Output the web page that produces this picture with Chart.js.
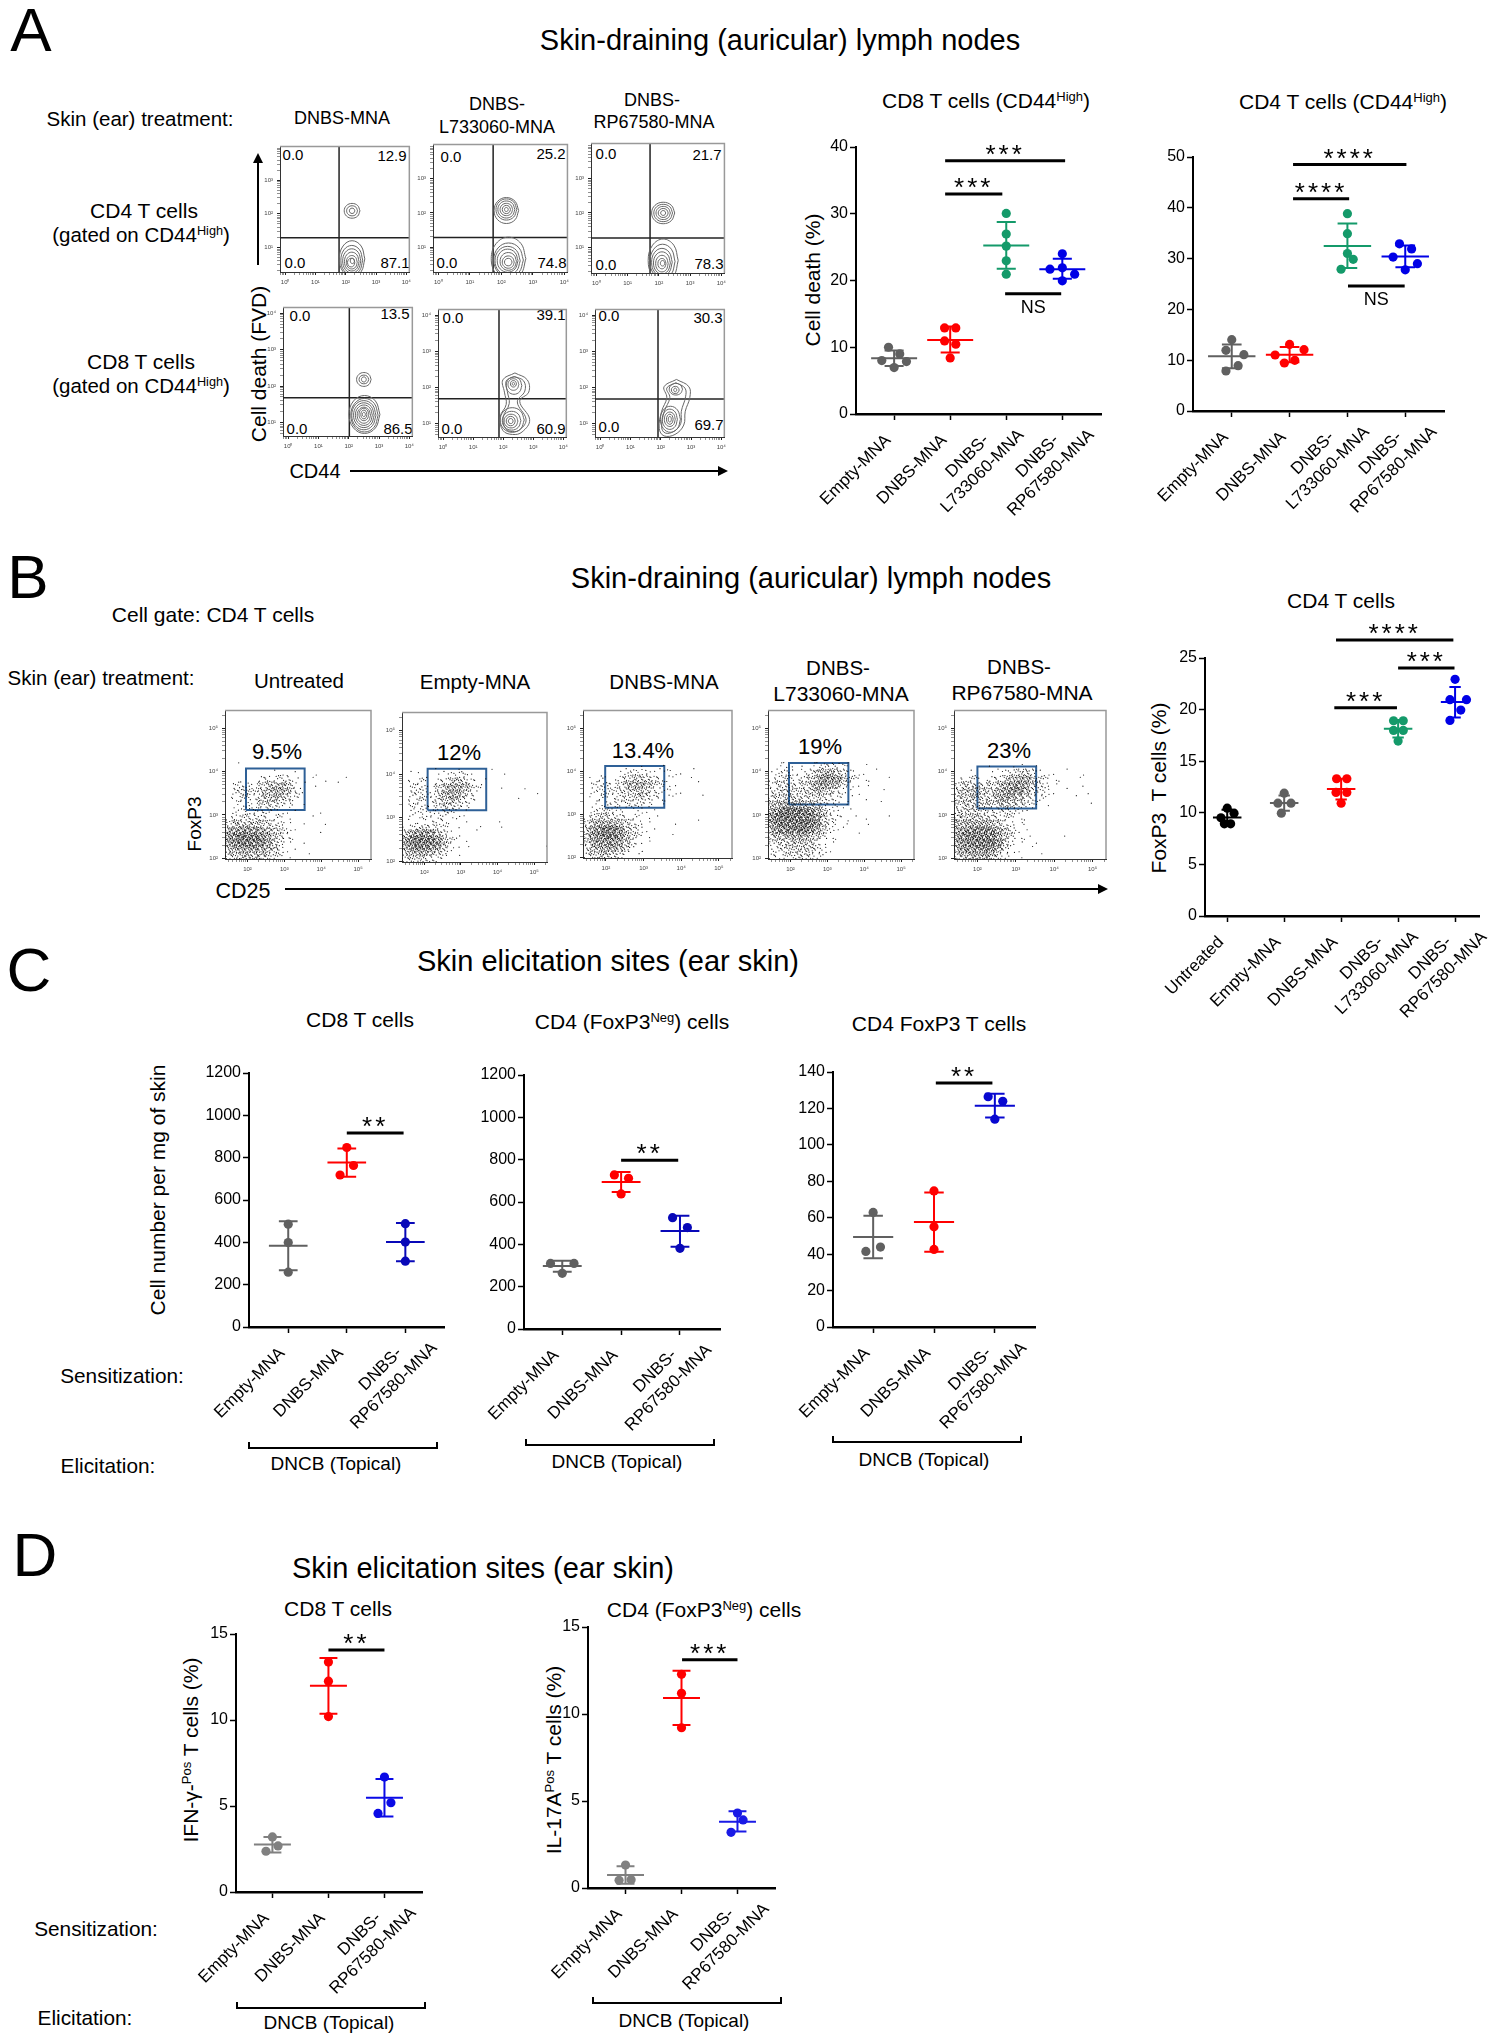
<!DOCTYPE html>
<html>
<head>
<meta charset="utf-8">
<title>Skin-draining lymph nodes and elicitation sites</title>
<script src="https://cdn.jsdelivr.net/npm/chart.js@4"></script>
<style>
  html, body { margin: 0; background: #fff; }
  #page { position: relative; width: 1494px; height: 2040px; overflow: hidden; background: #fff;
          font-family: "Liberation Sans", Arial, sans-serif; color: #000; }
  #page canvas { position: absolute; }
  .t { position: absolute; white-space: nowrap; transform: translate(-50%, -50%); line-height: 1; }
  .t sup { font-size: 62%; line-height: 0; vertical-align: baseline; position: relative; top: -0.55em; }
  .v { transform: translate(-50%, -50%) rotate(-90deg); }
  .k { position: absolute; background: #000; }
</style>
</head>
<body>
<div id="page"></div>
<script>
// ---- group names ----
var groupsA = ['Empty-MNA', 'DNBS-MNA', ['DNBS-', 'L733060-MNA'], ['DNBS-', 'RP67580-MNA']];
var groupsB = ['Untreated', 'Empty-MNA', 'DNBS-MNA', ['DNBS-', 'L733060-MNA'], ['DNBS-', 'RP67580-MNA']];
var groupsC = ['Empty-MNA', 'DNBS-MNA', ['DNBS-', 'RP67580-MNA']];

// ---- panel A, CD8 T cells ----
var a1X = [[-.1, .1, -.22, .22, 0], [-.1, .1, -.1, .1, 0], [0, 0, 0, 0, 0], [0, -.22, 0, .22, 0]];
var a1Y = [[10, 9, 8, 7.85, 6.95], [12.9, 12.9, 10.95, 10.45, 8.4], [30.05, 26.95, 25.15, 22.95, 20.95], [24, 21.7, 21.9, 20.95, 19.95]];
var a1Mean = [8.35, 11.1, 25.25, 21.7];
var a1Upper = [9.5, 13.1, 28.75, 23.25];
var a1Lower = [7.2, 9.2, 21.75, 20.25];
var a1Sig = [[.91, 3.05, 37.95, '***'], [.91, 1.93, 32.95, '***'], [1.98, 2.98, 18, 'NS']];

// ---- panel A, CD4 T cells ----
var a2X = [[0, -.1, .21, .11, -.1], [0, .25, -.25, .09, -.09], [0, 0, 0, .1, -.11], [-.1, .11, -.21, .21, 0]];
var a2Y = [[14.04, 11.94, 11.09, 8.92, 7.87], [13.1, 12.07, 11.02, 9.97, 9.45], [38.85, 34.9, 31, 29.86, 27.9], [32.9, 31.9, 30.3, 29, 27.8]];
var a2Mean = [10.76, 11.09, 32.5, 30.4];
var a2Upper = [13.1, 12.6, 36.9, 32.6];
var a2Lower = [8.4, 9.6, 28.15, 28.3];
var a2Sig = [[1.06, 3.02, 48.5, '****'], [1.06, 2.03, 41.8, '****'], [2.01, 2.99, 24.6, 'NS']];

// ---- panel B, FoxP3 T cells ----
var b1X = [[0, .12, -.11, -.05, .06], [0, -.11, .12, -.05], [-.08, .1, -.09, .1, 0], [-.08, .09, -.08, .09, 0], [0, -.09, .2, .1, -.09]];
var b1Y = [[10.45, 9.96, 9.51, 8.93, 8.93], [11.9, 10.93, 10.93, 9.96], [13.3, 13.3, 11.97, 11.97, 10.93], [18.92, 18.92, 17.98, 17.98, 16.95], [22.93, 20.96, 20.96, 19.95, 18.95]];
var b1Mean = [9.54, 10.96, 12.3, 18.14, 20.73];
var b1Upper = [10.3, 11.67, 13.3, 19, 22.2];
var b1Lower = [8.8, 10.2, 11.3, 17.3, 19.24];
var b1Sig = [[1.91, 3.97, 26.75, '****'], [3, 3.99, 24.03, '***'], [1.88, 2.98, 20.18, '***']];

// ---- panel C ----
var c1X = [[0, 0, 0], [0, .115, -.115], [0, 0, 0]];
var c1Y = [[486, 399, 259], [848, 763, 718], [488, 401, 311]];
var c1Mean = [384, 777, 401];
var c1Upper = [500, 843, 491];
var c1Lower = [268, 710, 311];
var c1Sig = [[1, 1.97, 916, '**']];

var c2X = [[-.2, .2, 0], [-.115, .126, 0], [-.126, .126, 0]];
var c2Y = [[310, 310, 263], [728, 712, 638], [526, 479, 381]];
var c2Mean = [298, 694, 463];
var c2Upper = [323, 742, 535];
var c2Lower = [271, 647, 389];
var c2Sig = [[1, 1.97, 797, '**']];

var c3X = [[0, .12, -.12], [0, 0, 0], [-.11, .13, 0]];
var c3Y = [[62.9, 43.9, 41.5], [74.7, 55, 42.6], [126.4, 123.9, 114.1]];
var c3Mean = [49.4, 57.6, 121.5];
var c3Upper = [61.1, 73.8, 128];
var c3Lower = [37.8, 41.3, 115];
var c3Sig = [[1.03, 1.96, 134, '**']];

// ---- panel D ----
var d1X = [[0, .1, -.115], [0, 0, 0], [0, .115, -.115]];
var d1Y = [[3.2, 2.68, 2.37], [13.37, 12.26, 10.2], [6.68, 5.19, 4.57]];
var d1Mean = [2.76, 11.99, 5.48];
var d1Upper = [3.2, 13.6, 6.57];
var d1Lower = [2.3, 10.37, 4.39];
var d1Sig = [[1, 2, 14.07, '**']];

var d2X = [[0, -.115, .1], [0, 0, 0], [0, .1, -.115]];
var d2Y = [[1.32, .44, .48], [12.28, 11.19, 9.21], [4.31, 3.91, 3.2]];
var d2Mean = [.75, 10.92, 3.81];
var d2Upper = [1.25, 12.49, 4.41];
var d2Lower = [.25, 9.37, 3.24];
var d2Sig = [[1.01, 2, 13.12, '***']];

// ---- contour plots of panel A: rings are [centre x, centre y, radius x, radius y] in decades ----
var ringsA1 = [[2.21, 2.09, .26, .22], [2.21, 2.09, .18, .15], [2.21, 2.09, .09, .08],
  [2.21, .66, .42, .54], [2.2, .62, .36, .44], [2.2, .6, .3, .36], [2.2, .58, .24, .28], [2.2, .56, .18, .2], [2.18, .55, .12, .13], [2.22, .6, .07, .08]];
var ringsA2 = [[2.16, 2.07, .39, .38], [2.16, 2.1, .33, .31], [2.16, 2.1, .27, .25], [2.16, 2.1, .2, .18], [2.16, 2.1, .13, .12], [2.16, 2.1, .06, .06],
  [2.23, .66, .55, .63], [2.23, .62, .47, .5], [2.2, .6, .4, .42], [2.2, .6, .33, .34], [2.22, .58, .26, .26], [2.22, .56, .19, .18], [2.22, .56, .12, .11]];
var ringsA3 = [[2.14, 2, .37, .31], [2.14, 2, .3, .25], [2.14, 2, .23, .19], [2.14, 2, .16, .13], [2.14, 2, .08, .07],
  [2.14, .63, .48, .62], [2.12, .6, .4, .5], [2.1, .58, .33, .4], [2.1, .56, .27, .32], [2.1, .54, .2, .24], [2.1, .54, .13, .15], [2.12, .55, .07, .08]];
var ringsA4 = [[2.5, 2.18, .24, .19], [2.5, 2.18, .16, .12], [2.5, 2.18, .08, .07],
  [2.52, 1.22, .51, .52], [2.52, 1.2, .45, .46], [2.5, 1.2, .4, .4], [2.5, 1.2, .34, .34], [2.5, 1.2, .28, .28], [2.5, 1.2, .22, .22], [2.5, 1.22, .16, .17], [2.5, 1.22, .1, .12], [2.5, 1.22, .05, .06]];
var ringsA5 = [[2.36, 2.05, .26, .24], [2.34, 2.08, .18, .16], [2.34, 2.1, .1, .09], [2.34, 2.1, .04, .04],
  [2.3, 1.1, .4, .34], [2.28, 1.08, .31, .26], [2.26, 1.07, .23, .19], [2.25, 1.07, .15, .13], [2.25, 1.07, .08, .07]];
var ringsA6 = [[2.5, 1.95, .22, .16], [2.48, 1.93, .13, .1], [2.48, 1.93, .05, .05],
  [2.32, 1.12, .33, .36], [2.3, 1.12, .25, .28], [2.3, 1.12, .18, .2], [2.3, 1.12, .11, .14], [2.3, 1.12, .05, .08]];
// two-lobed outlines of the last two CD8 plots
var lobesA5 = [
  [[2.39, 2.4], [2.8, 2.21], [2.85, 1.87], [2.55, 1.62], [2.88, 1.11], [2.63, .77], [2.31, .7], [1.99, .81], [1.9, 1.19], [2.1, 1.53], [2.04, 1.87], [1.99, 2.21], [2.39, 2.4]],
  [[2.37, 2.3], [2.68, 2.18], [2.72, 1.9], [2.47, 1.6], [2.76, 1.12], [2.57, .84], [2.3, .78], [2.07, .87], [2, 1.18], [2.2, 1.55], [2.14, 1.88], [2.1, 2.18], [2.37, 2.3]]];
var lobesA6 = [
  [[2.52, 2.22], [2.93, 2.02], [2.96, 1.72], [2.81, 1.34], [2.76, .96], [2.47, .7], [2.11, .66], [1.95, .87], [2.03, 1.34], [2.2, 1.72], [2.11, 2.02], [2.52, 2.22]],
  [[2.5, 2.13], [2.8, 1.98], [2.82, 1.74], [2.68, 1.34], [2.66, 1], [2.42, .78], [2.15, .74], [2.03, .9], [2.12, 1.34], [2.3, 1.72], [2.2, 1.98], [2.5, 2.13]]];
var quadA = [[1.78, 1.29], [1.74, 1.28], [1.72, 1.28], [2.02, 1.68], [1.86, 1.69], [1.91, 1.68]];

// ---- dot plots of panel B: density per cell (hex), one string per row, rows 8 to 22 from the top ----
var dotsB1 = [
  '00100000000000000000000', '00000001101001000000000', '00000232331101010010000', '02322457762011000100000', '03443678873200000000000',
  '02332568652100000000000', '01222454321100000000000', '02223332111000100000000', '13343322210001000000000', '36665543310100010000000',
  '8abbb975421000100000000', 'bdfffda6421000000000000', '9cefed96310100000000000', '6899a875211000000000000', '4667765321001000000000'];
var dotsB2 = [
  '00000100100001000000000', '01110112231000010000000', '02220235652110000000000', '02331469974210010010000', '03332489853100000000100',
  '02322467532100000100000', '03232354321000000000000', '02222232110000000000000', '01122221110000100000000', '12343321100100010000000',
  '59bba641100100000000000', 'aefffb63110000000000000', '9cfedb52101000000000010', '6899754110000000000000', '3544321000000000000000'];
var dotsB3 = [
  '00000000100100000000000', '00000123221121101000000', '01211245543211001000000', '02332378874321000100000', '02333456753221100000000',
  '01222344542211000100000', '01223233321110000000000', '02342211211000000000000', '14553322110100000000000', '37988643210001000100000',
  '5adfec64211000000000000', '6bdffd74210001000000000', '49bcca6311000000000000', '3788975110000000000000', '2566431010000000000000'];
var dotsB4 = [
  '01210112332210100000000', '12321236785421101000000', '13432358bba632110010000', '24443469a97321010000000', '34544568653211000100000',
  '45555444432110100000000', '6898766532211000010000', '9cfffed852111000000000', 'bfffffeb6321011000100', 'aefffffb5311100100000',
  '8cdeefd84211010000000', '577988653110000000000', '3456665311000000000', '2344555321000000000', '2233444210000000000'];
var dotsB5 = [
  '00000100110100000000000', '00100112345311101010000', '02321235799632110010000', '35554469bca6421000100', '5777668bdc84321010010',
  '5676559a974321000100', '4565546764321100000100', '4554433432110000000', '5666543321100000000', '7899975321100000',
  '9cdeed96311000000', 'adffffa6311100001', 'acefffb6210100000', '8bbcdb731101000', '5788a7420100100'];
// gate [x from, x to, y from, y to] in decades
var gatesB = [[1.96, 3.55, 3.11, 4.07], [2.09, 3.69, 3.17, 4.12], [1.98, 3.55, 3.15, 4.12], [1.96, 3.57, 3.24, 4.2], [2, 3.53, 3.15, 4.12]];
var stipple = [[.13, .62], [.71, .19], [.42, .88], [.93, .55], [.28, .33], [.58, .47], [.07, .09], [.82, .81], [.37, .06], [.66, .72], [.19, .94], [.49, .24], [.88, .35], [.02, .44], [.75, .98]];

// ---- text on the page: html, centre x, centre y, size ----
var pageTexts = [
  ['A', 31, 30, 62], ['B', 28, 577, 62], ['C', 29, 970, 62], ['D', 35, 1555, 62],
  ['Skin-draining (auricular) lymph nodes', 780, 40, 29], ['Skin-draining (auricular) lymph nodes', 811, 578, 29],
  ['Skin elicitation sites (ear skin)', 608, 961, 29], ['Skin elicitation sites (ear skin)', 483, 1568, 29],
  ['Skin (ear) treatment:', 140, 119, 20.5], ['DNBS-MNA', 342, 118, 18], ['DNBS-', 497, 104, 18], ['L733060-MNA', 497, 127, 18], ['DNBS-', 652, 100, 18], ['RP67580-MNA', 654, 122, 18],
  ['CD4 T cells', 144, 210, 21], ['(gated on CD44<sup>High</sup>)', 141, 235, 20.5], ['CD8 T cells', 141, 361, 21], ['(gated on CD44<sup>High</sup>)', 141, 386, 20.5],
  ['CD44', 315, 471, 20], ['CD8 T cells (CD44<sup>High</sup>)', 986, 100, 21], ['CD4 T cells (CD44<sup>High</sup>)', 1343, 101, 21],
  ['Cell gate: CD4 T cells', 213, 614, 21], ['Skin (ear) treatment:', 101, 678, 20.5],
  ['Untreated', 299, 681, 20.5], ['Empty-MNA', 475, 682, 20.5], ['DNBS-MNA', 664, 682, 20.5], ['DNBS-', 838, 668, 20.5], ['L733060-MNA', 841, 693, 21], ['DNBS-', 1019, 667, 20.5], ['RP67580-MNA', 1022, 692, 21],
  ['9.5%', 277, 752, 22], ['12%', 459, 753, 22], ['13.4%', 643, 751, 22], ['19%', 820, 747, 22], ['23%', 1009, 751, 22],
  ['CD25', 243, 892, 21.5], ['CD4 T cells', 1341, 600, 21],
  ['CD8 T cells', 360, 1019, 21], ['CD4 (FoxP3<sup>Neg</sup>) cells', 632, 1021, 21], ['CD4 FoxP3 T cells', 939, 1023, 21],
  ['Sensitization:', 122, 1376, 20.8], ['Elicitation:', 108, 1466, 20.8],
  ['DNCB (Topical)', 336, 1463, 19], ['DNCB (Topical)', 617, 1461, 19], ['DNCB (Topical)', 924, 1459, 19],
  ['CD8 T cells', 338, 1608, 21], ['CD4 (FoxP3<sup>Neg</sup>) cells', 704, 1609, 21],
  ['Sensitization:', 96, 1929, 20.8], ['Elicitation:', 85, 2018, 20.8],
  ['DNCB (Topical)', 329, 2022, 19], ['DNCB (Topical)', 684, 2020, 19]
];
var sideTexts = [
  ['Cell death (FVD)', 258, 364, 21], ['Cell death (%)', 812, 280, 21], ['FoxP3', 194, 824, 19],
  ['FoxP3&nbsp; T cells (%)', 1158, 788, 21], ['Cell number per mg of skin', 157, 1190, 21],
  ['IFN-&gamma;-<sup>Pos</sup> T cells (%)', 190, 1750, 21], ['IL-17A<sup>Pos</sup> T cells (%)', 553, 1760, 21]
];
var quadNumbers = [
  ['0.0', 293, 154], ['12.9', 392, 155], ['0.0', 295, 262], ['87.1', 395, 262],
  ['0.0', 451, 156], ['25.2', 551, 153], ['0.0', 447, 262], ['74.8', 552, 262],
  ['0.0', 606, 153], ['21.7', 707, 154], ['0.0', 606, 264], ['78.3', 709, 263],
  ['0.0', 300, 315], ['13.5', 395, 313], ['0.0', 297, 428], ['86.5', 398, 428],
  ['0.0', 453, 317], ['39.1', 551, 314], ['0.0', 452, 428], ['60.9', 551, 428],
  ['0.0', 609, 315], ['30.3', 708, 317], ['0.0', 609, 426], ['69.7', 709, 424]
];

var GRAY = '#606060', RED = '#ff0000', GREEN = '#149a6a', BLUE = '#0000e6', BLACK = '#000000';
var page = document.getElementById('page');
var decadeSup = ['\u2070', '\u00b9', '\u00b2', '\u00b3', '\u2074', '\u2075'];
var minorLog = [.3, .48, .6, .7, .78, .85, .9, .95];

function addText(html, x, y, size, cls) {
    var el = document.createElement('div');
    el.className = cls;
    el.innerHTML = html;
    el.style.left = x + 'px';
    el.style.top = y + 'px';
    el.style.fontSize = size + 'px';
    page.appendChild(el);
    return el;
}

function addBox(x, y, w, h) {
    var el = document.createElement('div');
    el.className = 'k';
    el.style.cssText = 'left:' + x + 'px;top:' + y + 'px;width:' + w + 'px;height:' + h + 'px';
    page.appendChild(el);
    return el;
}

function addCanvas(left, top, w, h) {
    var c = document.createElement('canvas');
    c.width = w;
    c.height = h;
    c.style.left = left + 'px';
    c.style.top = top + 'px';
    c.style.width = w + 'px';
    c.style.height = h + 'px';
    page.appendChild(c);
    return c;
}

function arrowRight(x0, x1, y) {
    addBox(x0, y - 1, x1 - x0 - 8, 2);
    var head = addBox(x1 - 10, y - 5, 0, 0);
    head.style.cssText += ';background:none;border-left:10px solid #000;border-top:5px solid transparent;border-bottom:5px solid transparent';
}

function arrowUp(x, y0, y1) {
    addBox(x - 1, y0 + 8, 2, y1 - y0 - 8);
    var head = addBox(x - 5, y0, 0, 0);
    head.style.cssText += ';background:none;border-bottom:10px solid #000;border-left:5px solid transparent;border-right:5px solid transparent';
}

function bracket(x0, x1, y) {
    addBox(x0, y + 5, x1 - x0, 2);
    addBox(x0, y, 2, 6);
    addBox(x1 - 2, y, 2, 6);
}

function segment(points, color, width, extra) {
    return Object.assign({
        type: 'scatter', data: points, showLine: true, pointRadius: 0, borderColor: color,
        borderWidth: width, spanGaps: false
    }, extra || {});
}

// tick labels: trailing spaces pull them along the slant to where the figure has them
function tickText(label) {
    if (Array.isArray(label)) return [label[0] + '      ', label[1]];
    return label + '      ';
}

function dotChart(o) {
    var ml = 60, mr = 60, mt = 60, mb = 150;
    var r = o.rect;
    var w = r.right - r.left, h = r.bottom - r.top;
    var canvas = addCanvas(r.left - ml, r.top - mt, w + ml + mr, h + mt + mb);
    var shift = o.labelShift || {};
    var datasets = [];
    o.xs.forEach(function (xs, g) {
        var col = o.colors[g], m = o.mean[g], up = o.upper[g], lo = o.lower[g];
        var gap = { x: NaN, y: NaN };
        datasets.push(segment([
            { x: g - r.mw, y: m }, { x: g + r.mw, y: m }, gap,
            { x: g, y: up }, { x: g, y: lo }, gap,
            { x: g - r.cw, y: up }, { x: g + r.cw, y: up }, gap,
            { x: g - r.cw, y: lo }, { x: g + r.cw, y: lo }
        ], col, 2));
        datasets.push({
            type: 'scatter',
            data: xs.map(function (dx, i) { return { x: g + dx, y: o.ys[g][i] }; }),
            pointRadius: 4.6, pointBackgroundColor: col, pointBorderWidth: 0, showLine: false
        });
    });
    o.sig.forEach(function (s) {
        datasets.push(segment([{ x: s[0], y: s[2] }, { x: s[1], y: s[2] }], '#000', 3, { clip: false }));
    });
    var sigText = {
        id: 'sigText',
        afterDatasetsDraw: function (chart) {
            var ctx = chart.ctx;
            o.sig.forEach(function (s) {
                var px = chart.scales.x.getPixelForValue((s[0] + s[1]) / 2);
                var py = chart.scales.y.getPixelForValue(s[2]);
                ctx.save();
                ctx.fillStyle = '#000';
                ctx.textAlign = 'center';
                ctx.textBaseline = 'middle';
                if (s[3] === 'NS') {
                    ctx.font = '18px "Liberation Sans"';
                    ctx.fillText(s[3], px, py + 14);
                } else {
                    ctx.font = '26px "Liberation Sans"';
                    ctx.letterSpacing = '3px';
                    ctx.fillText(s[3], px, py - 5);
                }
                ctx.restore();
            });
        }
    };
    new Chart(canvas, {
        type: 'scatter',
        data: { datasets: datasets },
        plugins: [sigText],
        options: {
            responsive: false,
            animation: false,
            layout: { padding: { top: mt, right: mr } },
            plugins: { legend: { display: false }, tooltip: { enabled: false } },
            scales: {
                x: {
                    type: 'linear', min: r.xMin, max: r.xMax,
                    afterFit: function (s) { s.height = mb; },
                    afterBuildTicks: function (s) {
                        // a shifted label sits on its own unmarked tick, next to the group's tick
                        s.ticks = o.groups.map(function (_, i) { return { value: i }; });
                        Object.keys(shift).forEach(function (k) { s.ticks.push({ value: +k + shift[k] }); });
                    },
                    border: { color: '#000', width: 2.5 },
                    grid: {
                        drawOnChartArea: false, tickLength: 6, tickWidth: 1.5,
                        tickColor: function (c) { return c.tick && Number.isInteger(c.tick.value) ? '#000' : 'rgba(0,0,0,0)'; }
                    },
                    ticks: {
                        autoSkip: false, minRotation: 45, maxRotation: 45, padding: -10, labelOffset: 14,
                        font: { family: 'Liberation Sans', size: 17, lineHeight: 1.25 }, color: '#000',
                        callback: function (v) {
                            if (!Number.isInteger(v)) return tickText(o.groups[Math.round(v)]);
                            return shift[v] ? '' : tickText(o.groups[v]);
                        }
                    }
                },
                y: {
                    min: 0, max: o.yMax,
                    afterFit: function (s) { s.width = ml; },
                    border: { color: '#000', width: 2 },
                    grid: { drawOnChartArea: false, tickLength: 6, tickColor: '#000', tickWidth: 1.5 },
                    ticks: {
                        stepSize: o.yStep, padding: 2,
                        font: { family: 'Liberation Sans', size: 16 }, color: '#000',
                        callback: function (v) { return String(v); }
                    }
                }
            }
        }
    });
}

function flowChart(r, datasets, xLabels, yLabels) {
    var ml = 24, mb = 22, mt = 3, mr = 3;
    var w = r.right - r.left, h = r.bottom - r.top;
    var canvas = addCanvas(r.left - ml, r.top - mt, w + ml + mr, h + mt + mb);
    function tickList(majors, lo, hi) {
        var out = [];
        majors.forEach(function (d) {
            out.push({ value: d });
            minorLog.forEach(function (m) { if (d + m < hi) out.push({ value: d + m }); });
            minorLog.forEach(function (m) { if (d === majors[0] && d - 1 + m > lo) out.push({ value: d - 1 + m }); });
        });
        return out;
    }
    function axis(min, max, majors, size, isX) {
        return {
            type: 'linear', min: min, max: max,
            afterBuildTicks: function (s) { s.ticks = tickList(majors, min, max); },
            afterFit: function (s) { if (isX) s.height = mb; else s.width = ml; },
            border: { color: '#333', width: 1 },
            grid: {
                drawOnChartArea: false, tickLength: 3, tickColor: '#222',
                tickWidth: function (c) { return c.tick && Number.isInteger(c.tick.value) ? 1 : .5; }
            },
            ticks: {
                autoSkip: false, minRotation: 0, maxRotation: 0, padding: 4,
                font: { family: 'Liberation Sans', size: size }, color: '#444',
                callback: function (v) { return majors.indexOf(v) >= 0 ? '10' + decadeSup[v] : ''; }
            }
        };
    }
    datasets.unshift(segment([{ x: r.xMin, y: r.yMax }, { x: r.xMax, y: r.yMax }, { x: r.xMax, y: r.yMin }], '#999', 1.5, { clip: false }));
    new Chart(canvas, {
        type: 'scatter',
        data: { datasets: datasets },
        options: {
            responsive: false,
            animation: false,
            layout: { padding: { top: mt, right: mr } },
            plugins: { legend: { display: false }, tooltip: { enabled: false } },
            scales: {
                x: axis(r.xMin, r.xMax, xLabels, 6, true),
                y: axis(r.yMin, r.yMax, yLabels, 6, false)
            }
        }
    });
}

var ringShape = [[1, 0], [.71, .71], [0, 1], [-.71, .71], [-1, 0], [-.71, -.71], [0, -1], [.71, -.71], [1, 0]];

function contourPanel(r, rings, lobes, quad, yLabels) {
    var datasets = [];
    function add(pts) {
        datasets.push(segment(pts, '#666', 1, { tension: .4 }));
    }
    rings.forEach(function (q) {
        add(ringShape.map(function (p) { return { x: q[0] + p[0] * q[2], y: q[1] + p[1] * q[3] }; }));
    });
    lobes.forEach(function (l) {
        add(l.map(function (p) { return { x: p[0], y: p[1] }; }));
    });
    datasets.push(segment([{ x: quad[0], y: r.yMin }, { x: quad[0], y: r.yMax }], '#222', 1.5));
    datasets.push(segment([{ x: r.xMin, y: quad[1] }, { x: r.xMax, y: quad[1] }], '#222', 1.5));
    flowChart(r, datasets, [0, 1, 2, 3, 4], yLabels);
}

function dotPanel(r, rows, gate) {
    var cellW = (r.xMax - r.xMin) / 22, cellH = (r.yMax - r.yMin) / 23;
    var pts = [];
    rows.forEach(function (row, ri) {
        row.split('').forEach(function (ch, c) {
            var d = parseInt(ch, 16);
            var n = d < 2 ? d : Math.round(d * 1.7);
            for (var i = 0; i < n; i++) {
                var s = stipple[(i + ri * 5 + c * 3) % stipple.length];
                var k = Math.floor(i / stipple.length);
                pts.push({
                    x: r.xMin + (c + (s[0] + k * .37) % 1) * cellW,
                    y: r.yMax - (ri + 8 + (s[1] + k * .61) % 1) * cellH
                });
            }
        });
    });
    var datasets = [
        { type: 'scatter', data: pts, pointRadius: .6, pointBackgroundColor: '#111', pointBorderWidth: 0, showLine: false },
        segment([
            { x: gate[0], y: gate[2] }, { x: gate[1], y: gate[2] }, { x: gate[1], y: gate[3] },
            { x: gate[0], y: gate[3] }, { x: gate[0], y: gate[2] }
        ], '#2e6097', 2)
    ];
    flowChart(r, datasets, [2, 3, 4, 5], [2, 3, 4, 5]);
}

// ---- text and annotations ----
pageTexts.forEach(function (t) { addText(t[0], t[1], t[2], t[3], 't'); });
sideTexts.forEach(function (t) { addText(t[0], t[1], t[2], t[3], 't v'); });
quadNumbers.forEach(function (t) { addText(t[0], t[1], t[2], 15, 't'); });
arrowUp(258, 153, 265);
arrowRight(350, 728, 471);
arrowRight(285, 1108, 889);
bracket(248, 438, 1442);
bracket(525, 715, 1439);
bracket(832, 1022, 1436);
bracket(236, 426, 2002);
bracket(592, 782, 1997);

// ---- contour plots ----
var rowOne = { xMin: -.17, xMax: 4.1, yMin: .27, yMax: 4 };
var rowTwo = { xMin: -.17, xMax: 4.1, yMin: .63, yMax: 4.15 };
contourPanel(Object.assign({ left: 280, right: 412, top: 142, bottom: 272 }, rowOne), ringsA1, [], quadA[0], [1, 2, 3]);
contourPanel(Object.assign({ left: 433, right: 570, top: 140, bottom: 272 }, rowOne), ringsA2, [], quadA[1], [1, 2, 3]);
contourPanel(Object.assign({ left: 591, right: 727, top: 139, bottom: 273 }, rowOne), ringsA3, [], quadA[2], [1, 2, 3]);
contourPanel(Object.assign({ left: 283, right: 415, top: 303, bottom: 436 }, rowTwo), ringsA4, [], quadA[3], [1, 2, 3, 4]);
contourPanel(Object.assign({ left: 438, right: 569, top: 305, bottom: 437 }, rowTwo), ringsA5, lobesA5, quadA[4], [1, 2, 3, 4]);
contourPanel(Object.assign({ left: 595, right: 727, top: 305, bottom: 437 }, rowTwo), ringsA6, lobesA6, quadA[5], [1, 2, 3, 4]);

// ---- dot plots ----
var flowB = { xMin: 1.39, xMax: 5.35, yMin: 1.98, yMax: 5.41 };
dotPanel(Object.assign({ left: 225, right: 372, top: 706, bottom: 859 }, flowB), dotsB1, gatesB[0]);
dotPanel(Object.assign({ left: 402, right: 548, top: 708, bottom: 862 }, flowB), dotsB2, gatesB[1]);
dotPanel(Object.assign({ left: 583, right: 733, top: 706, bottom: 858 }, flowB), dotsB3, gatesB[2]);
dotPanel(Object.assign({ left: 768, right: 915, top: 706, bottom: 859 }, flowB), dotsB4, gatesB[3]);
dotPanel(Object.assign({ left: 954, right: 1107, top: 706, bottom: 859 }, flowB), dotsB5, gatesB[4]);

// ---- group plots ----
dotChart({
    rect: { left: 856, right: 1101, top: 147, bottom: 414, xMin: -.68, xMax: 3.69, mw: .41, cw: .17 },
    groups: groupsA, colors: [GRAY, RED, GREEN, BLUE], yMax: 40, yStep: 10, labelShift: { 2: -.25 },
    xs: a1X, ys: a1Y, mean: a1Mean, upper: a1Upper, lower: a1Lower, sig: a1Sig
});
dotChart({
    rect: { left: 1193, right: 1444, top: 157, bottom: 411, xMin: -.67, xMax: 3.67, mw: .41, cw: .17 },
    groups: groupsA, colors: [GRAY, RED, GREEN, BLUE], yMax: 50, yStep: 10, labelShift: { 2: -.17 },
    xs: a2X, ys: a2Y, mean: a2Mean, upper: a2Upper, lower: a2Lower, sig: a2Sig
});
dotChart({
    rect: { left: 1205, right: 1479, top: 658, bottom: 916, xMin: -.39, xMax: 4.42, mw: .25, cw: .1 },
    groups: groupsB, colors: [BLACK, GRAY, RED, GREEN, BLUE], yMax: 25, yStep: 5, labelShift: { 3: -.2 },
    xs: b1X, ys: b1Y, mean: b1Mean, upper: b1Upper, lower: b1Lower, sig: b1Sig
});
dotChart({
    rect: { left: 249, right: 444, top: 1073, bottom: 1327, xMin: -.67, xMax: 2.66, mw: .33, cw: .16 },
    groups: groupsC, colors: [GRAY, RED, '#0808b8'], yMax: 1200, yStep: 200,
    xs: c1X, ys: c1Y, mean: c1Mean, upper: c1Upper, lower: c1Lower, sig: c1Sig
});
dotChart({
    rect: { left: 524, right: 720, top: 1075, bottom: 1329, xMin: -.65, xMax: 2.68, mw: .33, cw: .16 },
    groups: groupsC, colors: [GRAY, RED, '#0808b8'], yMax: 1200, yStep: 200,
    xs: c2X, ys: c2Y, mean: c2Mean, upper: c2Upper, lower: c2Lower, sig: c2Sig
});
dotChart({
    rect: { left: 833, right: 1035, top: 1072, bottom: 1327, xMin: -.66, xMax: 2.66, mw: .33, cw: .16 },
    groups: groupsC, colors: [GRAY, RED, '#0808d0'], yMax: 140, yStep: 20,
    xs: c3X, ys: c3Y, mean: c3Mean, upper: c3Upper, lower: c3Lower, sig: c3Sig
});
dotChart({
    rect: { left: 236, right: 422, top: 1634, bottom: 1892, xMin: -.65, xMax: 2.67, mw: .33, cw: .16 },
    groups: groupsC, colors: ['#808080', RED, '#0a0ae6'], yMax: 15, yStep: 5,
    xs: d1X, ys: d1Y, mean: d1Mean, upper: d1Upper, lower: d1Lower, sig: d1Sig
});
dotChart({
    rect: { left: 588, right: 775, top: 1627, bottom: 1888, xMin: -.67, xMax: 2.67, mw: .33, cw: .16 },
    groups: groupsC, colors: ['#808080', RED, '#1a1ae6'], yMax: 15, yStep: 5,
    xs: d2X, ys: d2Y, mean: d2Mean, upper: d2Upper, lower: d2Lower, sig: d2Sig
});
</script>
</body>
</html>
